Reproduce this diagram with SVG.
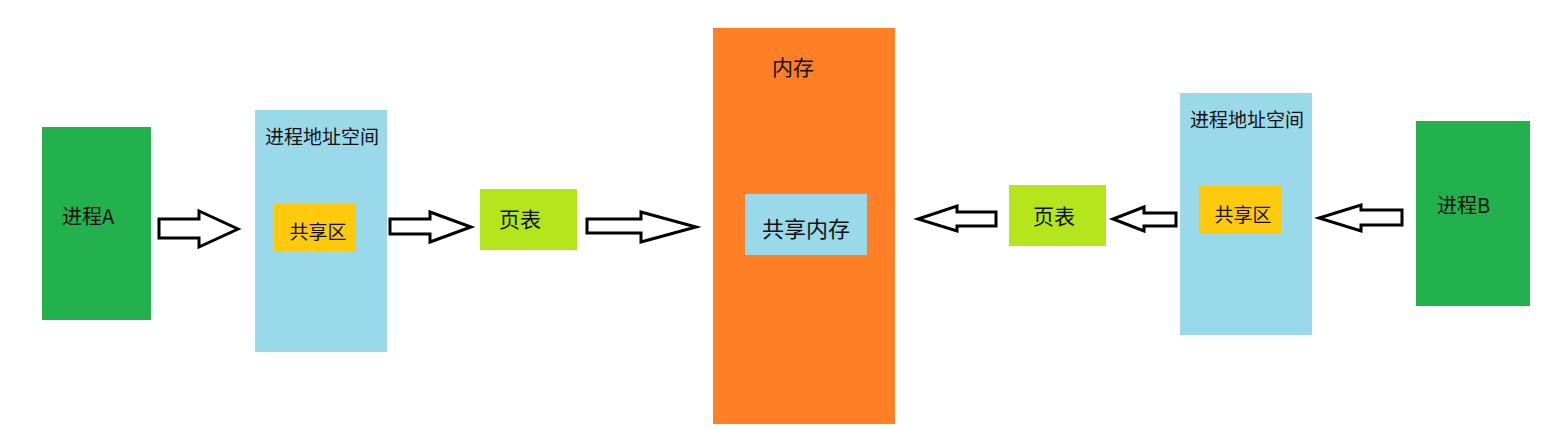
<svg xmlns="http://www.w3.org/2000/svg" width="1566" height="429" viewBox="0 0 1566 429">
<style>
text{font-family:"Noto Sans CJK SC","Noto Sans",sans-serif;fill:#111;dominant-baseline:central}
.s18{font-size:19px}
.s20{font-size:21px}
.p{font-size:20px}
.arrow{fill:#fff;stroke:#000;stroke-width:3;stroke-linejoin:miter}
</style>
<rect width="1566" height="429" fill="#fff"/>
<g id="procA">
<rect x="42" y="127" width="109" height="193" fill="#22b14c"/>
<text class="p" x="62" y="215">进程A</text>
</g>
<g id="addrA">
<rect x="255" y="110" width="132" height="242" fill="#99d9ea"/>
<text class="s18" x="322" y="135" text-anchor="middle">进程地址空间</text>
</g>
<g id="shareA">
<rect x="274" y="203" width="82" height="48" fill="#ffc90e"/>
<text class="s18" x="318" y="230" text-anchor="middle">共享区</text>
</g>
<g id="pageA">
<rect x="480" y="189" width="97" height="61" fill="#b5e61d"/>
<text class="s20" x="520" y="218" text-anchor="middle">页表</text>
</g>
<g id="memory">
<rect x="713" y="28" width="182" height="396" fill="#ff7f27"/>
<text class="s20" x="793" y="66" text-anchor="middle">内存</text>
</g>
<g id="shm">
<rect x="745" y="194" width="122" height="61" fill="#99d9ea"/>
<text class="s20" x="806" y="227" text-anchor="middle" style="font-size:22px">共享内存</text>
</g>
<g id="pageB">
<rect x="1009" y="185" width="97" height="61" fill="#b5e61d"/>
<text class="s20" x="1054" y="215" text-anchor="middle">页表</text>
</g>
<g id="addrB">
<rect x="1180" y="93" width="132" height="242" fill="#99d9ea"/>
<text class="s18" x="1247" y="118" text-anchor="middle">进程地址空间</text>
</g>
<g id="shareB">
<rect x="1199" y="186" width="82" height="48" fill="#ffc90e"/>
<text class="s18" x="1243" y="213" text-anchor="middle">共享区</text>
</g>
<g id="procB">
<rect x="1416" y="121" width="114" height="185" fill="#22b14c"/>
<text class="p" x="1437" y="204">进程B</text>
</g>
<g id="connectors">
<polygon class="arrow" points="159,219 199,219 199,211 238,229 199,247 199,238 159,238"/>
<polygon class="arrow" points="390,219 430,219 430,212 471,227 430,242 430,234 390,234"/>
<polygon class="arrow" points="587,219 641,219 641,212 696,227 641,242 641,233 587,233"/>
<polygon class="arrow" points="996,212 957,212 957,206 918,219 957,231 957,226 996,226"/>
<polygon class="arrow" points="1176,213 1144,213 1144,207 1113,219 1144,231 1144,226 1176,226"/>
<polygon class="arrow" points="1402,210 1361,210 1361,205 1319,218 1361,231 1361,225 1402,225"/>
</g>
</svg>
